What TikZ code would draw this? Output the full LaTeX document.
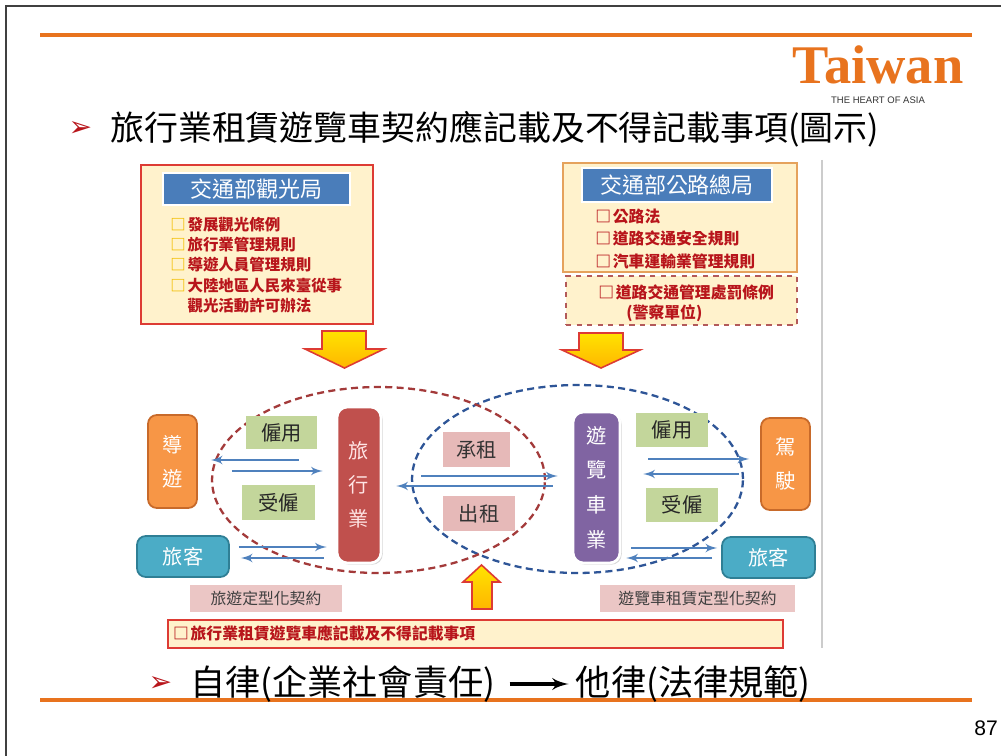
\documentclass[tikz,border=0pt]{standalone}
\usepackage{fontspec}
\setmainfont{Noto Sans CJK TC}
\newfontfamily\logofont{Liberation Serif}
\newfontfamily\numfont{Liberation Sans}
\newfontfamily\symfont{DejaVu Sans}
\usepackage{tikz}
\usetikzlibrary{positioning}
\usetikzlibrary{arrows,shapes,shadows,calc}
\usepackage{xcolor}
\definecolor{lineorange}{HTML}{E8731E}
\definecolor{noteyellow}{HTML}{FFF2CC}
\definecolor{lawred}{HTML}{B8151B}
\definecolor{boxred}{HTML}{DD3B34}
\definecolor{boxtan}{HTML}{E5A25C}
\definecolor{dashred}{HTML}{B35A5A}
\definecolor{headblue}{HTML}{4A7DBA}
\definecolor{bulyellow}{HTML}{F2BE00}
\definecolor{guideorange}{HTML}{F79646}
\definecolor{guideedge}{HTML}{C86A2A}
\definecolor{guestteal}{HTML}{4BACC6}
\definecolor{guestedge}{HTML}{2F7F95}
\definecolor{dealgreen}{HTML}{C3D69B}
\definecolor{rentpink}{HTML}{E6B9B8}
\definecolor{formpink}{HTML}{EBC6C5}
\definecolor{agencyred}{HTML}{C0504D}
\definecolor{buspurple}{HTML}{8064A2}
\definecolor{linkblue}{HTML}{4F81BD}
\definecolor{ringred}{HTML}{A33A3A}
\definecolor{ringblue}{HTML}{2E5597}
\definecolor{arrowgold}{HTML}{FFC000}
\newcommand{\lawbullet}[1]{\textcolor{#1}{□}\hspace{1pt}}
\tikzset{
  basic/.style    = {rectangle, inner sep=0pt, align=center},
  lawbox/.style   = {basic, fill=noteyellow, line width=0.9pt},
  headbox/.style  = {basic, fill=headblue, draw=white, line width=1.2pt, text=white,
                     font=\fontsize{12.5}{14}\selectfont,
                     drop shadow={opacity=0.35, shadow xshift=0.8pt, shadow yshift=-0.8pt}},
  lawlist/.style  = {basic, anchor=west, align=left, text=lawred},
  party/.style    = {basic, rounded corners=5pt, line width=1pt, text=white,
                     font=\fontsize{11.5}{19.3}\selectfont},
  guide/.style    = {party, fill=guideorange, draw=guideedge},
  guest/.style    = {party, fill=guestteal, draw=guestedge},
  firm/.style     = {party, draw=white, line width=1.5pt, rounded corners=6pt,
                     drop shadow={opacity=0.3, shadow xshift=1pt, shadow yshift=-1pt}},
  deal/.style     = {basic, fill=dealgreen, text=black!85, font=\fontsize{11.5}{13}\selectfont},
  rent/.style     = {basic, fill=rentpink, text=black!80, font=\fontsize{11.5}{13}\selectfont},
  form/.style     = {basic, fill=formpink, text=black!75, font=\fontsize{9}{11}\selectfont},
  link/.style     = {draw=linkblue, line width=1.3pt, -latex'},
  ring/.style     = {ellipse, line width=1.3pt, dash pattern=on 4pt off 2.5pt},
  bigarrow/.style = {draw=boxred, line width=0.9pt, top color=yellow!55!arrowgold, bottom color=arrowgold!85!orange},
  slidetext/.style= {inner sep=0pt, font=\fontsize{20}{24}\selectfont},
  slidemark/.style= {inner sep=0pt, text=lawred, font=\symfont\fontsize{16}{18}\selectfont}
}
\begin{document}
\begin{tikzpicture}[x=0.02cm, y=-0.02cm]
\useasboundingbox (0,0) rectangle (1001,756);
\fill[white] (0,0) rectangle (1001,756);
\draw[black!75, line width=1.2pt] (6,756) -- (6,6) -- (1001,6);
\draw[lineorange, line width=2.5pt] (40,35) -- (972,35);
\draw[lineorange, line width=2.5pt] (40,700) -- (972,700);
\draw[black!20, line width=1pt] (822,160) -- (822,648);

% logo and title
\node[inner sep=0pt, text depth=0pt, anchor=base, text=lineorange, font=\logofont\bfseries\fontsize{31}{33}\selectfont] (logo) at (878,84) {Taiwan};
\node[inner sep=0pt, text depth=0pt, anchor=base, text=black!80, font=\numfont\fontsize{5.4}{6}\selectfont] (slogan) at (878,104) {THE HEART OF ASIA};
\node[slidetext, anchor=west, font=\fontsize{19.3}{23}\selectfont] (title) at (110,129) {旅行業租賃遊覽車契約應記載及不得記載事項(圖示)};
\node[slidemark, left=10pt of title] (titlemark) {➢};

% regulators
\node[lawbox, draw=boxred, minimum width=4.64cm, minimum height=3.18cm] (tourbox) at (257,244.5) {};
\node[headbox, minimum width=3.74cm, minimum height=0.64cm] (tourhead) at (256.5,189) {交通部觀光局};
\node[lawlist, font=\bfseries\fontsize{8.8}{11.6}\selectfont] (tourlaws) at (170,265) {%
  \lawbullet{bulyellow}發展觀光條例\\
  \lawbullet{bulyellow}旅行業管理規則\\
  \lawbullet{bulyellow}導遊人員管理規則\\
  \lawbullet{bulyellow}大陸地區人民來臺從事\\
  \phantom{□}\hspace{1pt}觀光活動許可辦法};

\node[lawbox, draw=boxtan, minimum width=4.68cm, minimum height=2.18cm] (roadbox) at (680,217.5) {};
\node[headbox, minimum width=3.8cm, minimum height=0.68cm] (roadhead) at (677,185) {交通部公路總局};
\node[lawlist, font=\bfseries\fontsize{9}{12.8}\selectfont] (roadlaws) at (595,239) {%
  \lawbullet{lawred}公路法\\
  \lawbullet{lawred}道路交通安全規則\\
  \lawbullet{lawred}汽車運輸業管理規則};
\node[lawbox, draw=dashred, dashed, minimum width=4.62cm, minimum height=0.98cm] (policebox) at (681.5,300.5) {};
\node[lawlist, font=\bfseries\fontsize{9}{11.3}\selectfont] (policelaws) at (598,303) {%
  \lawbullet{lawred}道路交通管理處罰條例\\
  \hspace{16pt}(警察單位)};

\draw[bigarrow] (322,331) -- (366,331) -- (366,349) -- (384,349) -- (344.5,368) -- (305,349) -- (322,349) -- cycle;
\draw[bigarrow] (579,333) -- (623,333) -- (623,350) -- (640,350) -- (601,368) -- (562,350) -- (579,350) -- cycle;

% parties
\node[ring, draw=ringblue, minimum width=6.62cm, minimum height=3.76cm] (busring) at (577.5,479) {};
\node[ring, draw=ringred, minimum width=6.66cm, minimum height=3.72cm] (agencyring) at (378.5,480) {};

\node[guide, minimum width=0.98cm, minimum height=1.86cm] (guide) at (172.5,461.5) {導\\遊};
\node[guest, minimum width=1.84cm, minimum height=0.82cm] (guestL) at (183,556.5) {旅客};
\node[deal, minimum width=1.42cm, minimum height=0.66cm] (hireL) at (281.5,432.5) {僱用};
\node[deal, minimum width=1.46cm, minimum height=0.7cm] (hiredL) at (278.5,502.5) {受僱};
\node[firm, fill=agencyred, text=red!10, minimum width=0.88cm, minimum height=3.12cm] (agency) at (359,485) {旅\\行\\業};
\node[rent, minimum width=1.34cm, minimum height=0.7cm] (lease) at (476.5,449.5) {承租};
\node[rent, minimum width=1.44cm, minimum height=0.7cm] (letout) at (479,513.5) {出租};
\node[firm, fill=buspurple, minimum width=0.94cm, minimum height=3.02cm, font=\fontsize{11.5}{19.8}\selectfont] (busco) at (596.5,487.5) {遊\\覽\\車\\業};
\node[deal, minimum width=1.44cm, minimum height=0.68cm] (hireR) at (672,430) {僱用};
\node[deal, minimum width=1.44cm, minimum height=0.68cm] (hiredR) at (682,505) {受僱};
\node[guide, minimum width=0.98cm, minimum height=1.84cm] (driver) at (785.5,464) {駕\\駛};
\node[guest, minimum width=1.86cm, minimum height=0.82cm] (guestR) at (768.5,557.5) {旅客};

\node[form, minimum width=3.04cm, minimum height=0.54cm] (tourform) at (266,598.5) {旅遊定型化契約};
\node[form, minimum width=3.9cm, minimum height=0.54cm] (busform) at (697.5,598.5) {遊覽車租賃定型化契約};

\draw[bigarrow] (481.5,565) -- (500,582) -- (492,582) -- (492,609) -- (472,609) -- (472,582) -- (463,582) -- cycle;
\node[lawbox, draw=boxred, minimum width=12.3cm, minimum height=0.56cm, text width=12.1cm, align=left,
      text=lawred, font=\bfseries\fontsize{9}{11}\selectfont] (rentnote) at (475.5,634) {\lawbullet{lawred}旅行業租賃遊覽車應記載及不得記載事項};

% connectors
\draw[link, shorten <=0.74cm, shorten >=0.26cm] (agency.west |- 0,460) -- (guide.east |- 0,460);
\draw[link, shorten <=0.68cm, shorten >=0.26cm] (guide.east |- 0,471) -- (agency.west |- 0,471);
\draw[link, shorten <=0.18cm, shorten >=0.18cm] (guestL.east |- 0,547) -- (agency.west |- 0,547);
\draw[link, shorten <=0.24cm, shorten >=0.22cm] (agency.west |- 0,558) -- (guestL.east |- 0,558);
\draw[link, shorten <=0.78cm, shorten >=0.28cm] (agency.east |- 0,476) -- (busco.west |- 0,476);
\draw[link, shorten <=0.38cm, shorten >=0.28cm] (busco.west |- 0,486) -- (agency.east |- 0,486);
\draw[link, shorten <=0.54cm, shorten >=0.22cm] (busco.east |- 0,459) -- (driver.west |- 0,459);
\draw[link, shorten <=0.42cm, shorten >=0.44cm] (driver.west |- 0,474) -- (busco.east |- 0,474);
\draw[link, shorten <=0.2cm, shorten >=0.08cm] (busco.east |- 0,548) -- (guestR.west |- 0,548);
\draw[link, shorten <=0.18cm, shorten >=0.1cm] (guestR.west |- 0,558) -- (busco.east |- 0,558);

% bottom line
\node[slidetext, anchor=west] (selfrule) at (190,684) {自律(企業社會責任)};
\node[slidetext, right=1.6cm of selfrule] (lawrule) {他律(法律規範)};
\node[slidemark, left=10pt of selfrule] (rulemark) {➢};
\draw[-latex', line width=2.2pt, shorten <=8pt, shorten >=4pt] (selfrule) -- (lawrule);

\node[inner sep=0pt, font=\numfont\fontsize{12}{14}\selectfont] (pageno) at (986,728) {87};
\end{tikzpicture}
\end{document}
